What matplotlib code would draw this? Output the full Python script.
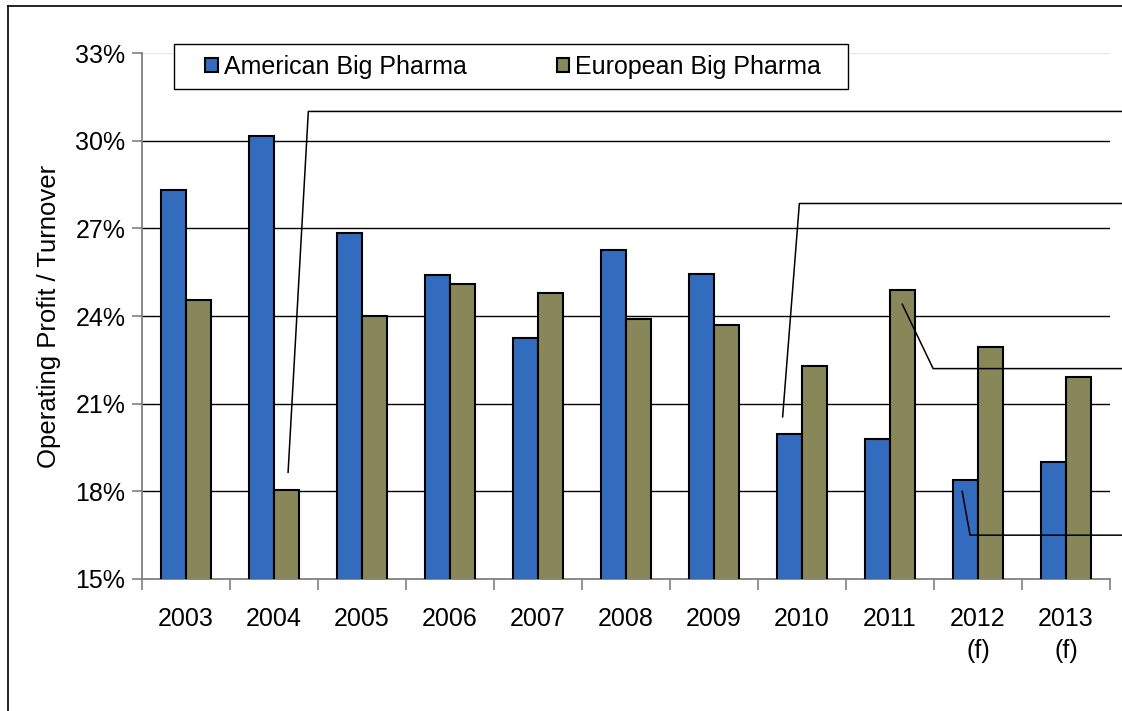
import numpy as np
import matplotlib.pyplot as plt
from matplotlib.lines import Line2D
from matplotlib.patches import Rectangle

plt.rcParams['font.family'] = ['Liberation Sans', 'DejaVu Sans']

# operating profit / turnover, %
years = ['2003', '2004', '2005', '2006', '2007', '2008', '2009', '2010', '2011', '2012\n(f)', '2013\n(f)']
american = [28.3, 30.15, 26.85, 25.4, 23.25, 26.25, 25.45, 19.95, 19.8, 18.4, 19.0]
european = [24.55, 18.05, 24.0, 25.1, 24.8, 23.9, 23.7, 22.3, 24.9, 22.95, 21.9]
yticks = [15, 18, 21, 24, 27, 30, 33]

# leader lines for the side notes: (x, y) in category / percent units
leaders = [
    [(1.16, 18.65), (1.39, 31.0), (11.2, 31.0)],
    [(6.78, 20.55), (6.97, 27.85), (11.2, 27.85)],
    [(8.14, 24.4), (8.49, 22.2), (11.2, 22.2)],
    [(8.82, 18.0), (8.91, 16.5), (11.2, 16.5)],
]

blue = '#336bbf'
olive = '#87875a'
W, H = 1122, 711

fig = plt.figure(figsize=(W / 100, H / 100), dpi=100)
ax = fig.add_axes([142 / W, 1 - 579 / H, 968 / W, 526 / H])

x = np.arange(len(years))
w = 0.285
ax.bar(x - w / 2, american, width=w, color=blue, edgecolor='black', linewidth=1.5,
       label='American Big Pharma', zorder=3)
ax.bar(x + w / 2, european, width=w, color=olive, edgecolor='black', linewidth=1.5,
       label='European Big Pharma', zorder=3)

ax.set_xlim(-0.5, len(years) - 0.5)
ax.set_ylim(15, 33)
ax.set_yticks(yticks)
ax.set_yticklabels([f'{t}%' for t in yticks])
for t in yticks[1:-1]:
    ax.axhline(t, color='black', linewidth=1.0, zorder=1)
ax.axhline(33, color='#e8e8e8', linewidth=1.0, zorder=1)

# category boundaries as tick marks, labels centred between them
ax.set_xticks(np.arange(len(years) + 1) - 0.5)
ax.set_xticklabels([])
ax.set_xticks(x, minor=True)
ax.set_xticklabels(years, minor=True, fontsize=18, linespacing=1.45)
ax.tick_params(axis='x', which='minor', length=0, pad=20)
ax.tick_params(axis='x', which='major', length=8, width=1.2, color='#808080', direction='out')
ax.tick_params(axis='y', length=7, width=1.2, color='#808080', labelsize=18, pad=5)

for side in ['top', 'right']:
    ax.spines[side].set_visible(False)
for side in ['left', 'bottom']:
    ax.spines[side].set_color('#808080')
    ax.spines[side].set_linewidth(1.3)

ax.set_ylabel('Operating Profit / Turnover', fontsize=18.5, labelpad=10)

for pts in leaders:
    xs, ys = zip(*pts)
    ax.plot(xs, ys, color='black', linewidth=1.1, clip_on=False, zorder=4)

# legend box drawn separately so its size can be set directly
box = Rectangle((174 / W, 1 - 89 / H), 674 / W, 45 / H, transform=fig.transFigure,
                facecolor='white', edgecolor='black', linewidth=1.0, zorder=5, clip_on=False)
ax.add_patch(box)
handles, labels = ax.get_legend_handles_labels()
leg = ax.legend(handles, labels, loc='center left', bbox_to_anchor=(205 / W, 1 - 67 / H),
                bbox_transform=fig.transFigure, ncol=2, fontsize=18, frameon=False,
                borderpad=0, borderaxespad=0, handlelength=0.5, handleheight=0.5,
                handletextpad=0.25, columnspacing=3.6)
leg.set_zorder(6)

# outer border of the figure panel
fig.add_artist(Line2D([8 / W, 8 / W], [0, 1 - 6 / H], color='black', linewidth=1.2))
fig.add_artist(Line2D([8 / W, 1], [1 - 6 / H, 1 - 6 / H], color='black', linewidth=1.2))

fig.savefig('out.png', dpi=100)
